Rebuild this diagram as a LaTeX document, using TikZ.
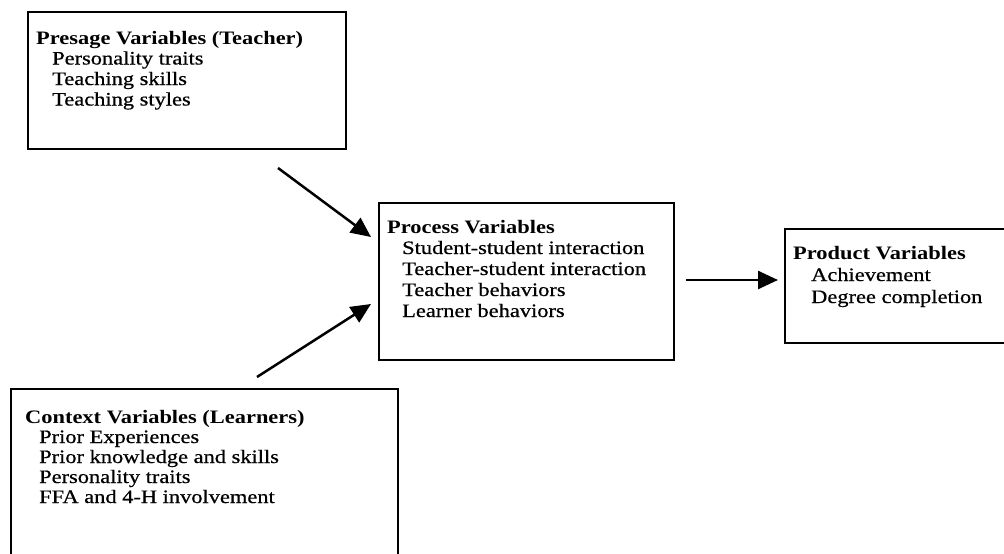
\documentclass[tikz,border=0pt]{standalone}
\usepackage{fontspec}
\setmainfont{Liberation Serif}[FakeStretch=1.18]
\newfontfamily\itemfont{Liberation Serif}[FakeStretch=1.18,FakeBold=0.6]
\usetikzlibrary{arrows.meta}
\tikzset{
  box/.style={draw=black, line width=2pt, fill=none, inner sep=0pt, anchor=north west},
  openbox/.style={draw=none, inner sep=0pt, anchor=north west},
  boxline/.style={draw=black, line width=2pt, line cap=rect},
  ttl/.style={anchor=base west, inner sep=0pt, font=\fontsize{19}{20}\selectfont\bfseries},
  itm/.style={anchor=base west, inner sep=0pt, font=\fontsize{19}{20}\selectfont\itemfont},
  arr/.style={line width=2.5pt, -{Triangle[length=20pt,width=18pt]}},
}
\begin{document}
\begin{tikzpicture}[x=1pt,y=-1pt]
\useasboundingbox (0,0) rectangle (1004,554);
% boxes
\node[box, minimum width=318pt, minimum height=137pt] (presage) at (27,11) {};
\node[box, minimum width=295pt, minimum height=157pt] (process) at (378,202) {};
\node[openbox, minimum width=219pt, minimum height=114pt] (product) at (785,229) {};
\draw[boxline] (product.north east) -- (product.north west) -- (product.south west) -- (product.south east);
\node[openbox, minimum width=387pt, minimum height=165pt] (context) at (11,389) {};
\draw[boxline] (context.south west) -- (context.north west) -- (context.north east) -- (context.south east);
% presage text
\node[ttl] (pt) at (36,44) {Presage Variables (Teacher)};
\node[itm] (p1) at (52,64.5) {Personality traits};
\node[itm] (p2) at (52,85) {Teaching skills};
\node[itm] (p3) at (52,105.5) {Teaching styles};
% process text
\node[ttl] (rt) at (387,233) {Process Variables};
\node[itm] (r1) at (402,254) {Student-student interaction};
\node[itm] (r2) at (402,275) {Teacher-student interaction};
\node[itm] (r3) at (402,296) {Teacher behaviors};
\node[itm] (r4) at (402,317) {Learner behaviors};
% product text
\node[ttl] (dt) at (793,259) {Product Variables};
\node[itm] (d1) at (811,281) {Achievement};
\node[itm] (d2) at (811,303) {Degree completion};
% context text
\node[ttl] (ct) at (25,423) {Context Variables (Learners)};
\node[itm] (c1) at (39,443) {Prior Experiences};
\node[itm] (c2) at (39,463) {Prior knowledge and skills};
\node[itm] (c3) at (39,483) {Personality traits};
\node[itm] (c4) at (39,503) {FFA and 4-H involvement};
% arrow ends
\coordinate (a1s) at (278,168);
\coordinate (a1e) at (371,237);
\coordinate (a2s) at (257,377);
\coordinate (a2e) at (371,304);
\coordinate (a3s) at (686,280);
\coordinate (a3e) at (778,280);
\draw[arr] (a1s) -- (a1e);
\draw[arr] (a2s) -- (a2e);
\draw[arr] (a3s) -- (a3e);
\end{tikzpicture}
\end{document}
